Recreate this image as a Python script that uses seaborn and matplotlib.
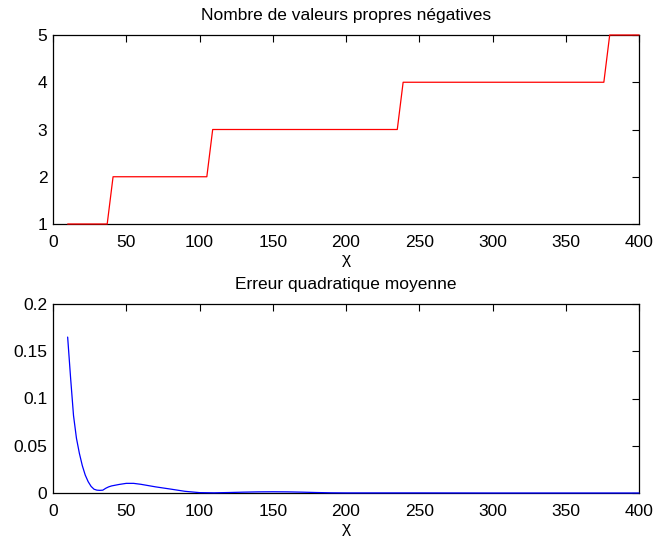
import matplotlib
matplotlib.use("Agg")
import matplotlib.pyplot as plt
import seaborn as sns
import pandas as pd

# Top: number of negative eigenvalues (step)
chi_top = [10, 37, 41, 105, 109, 235, 239, 376, 380, 400]
n_neg = [1, 1, 2, 2, 3, 3, 4, 4, 5, 5]

# Bottom: mean squared error
chi_err = [10, 12, 14, 16, 18, 20, 22, 24, 26, 28, 30, 32, 34, 36, 38, 40, 45, 50,
           55, 60, 70, 80, 90, 100, 110, 120, 130, 140, 150, 160, 170, 180, 190,
           200, 250, 300, 350, 400]
mse = [0.165, 0.122, 0.082, 0.058, 0.042, 0.029, 0.019, 0.012, 0.007, 0.004,
       0.003, 0.0028, 0.003, 0.005, 0.0065, 0.0075, 0.009, 0.0102, 0.0102, 0.0092,
       0.0065, 0.0042, 0.0018, 0.0004, 0.0002, 0.0005, 0.0009, 0.0012, 0.0013,
       0.0012, 0.0009, 0.0005, 0.0002, 0.0001, 0.0001, 0.0, 0.0, 0.0]

sns.set_style("white")
plt.rcParams['font.family'] = ['Liberation Sans', 'DejaVu Sans']
plt.rcParams['font.size'] = 12.5
plt.rcParams['text.color'] = 'black'
plt.rcParams['axes.labelcolor'] = 'black'

fig = plt.figure(figsize=(6.56, 5.43), dpi=100)
ax1 = fig.add_axes([53/656, 1-224/543, 586/656, 189/543])
ax2 = fig.add_axes([53/656, 1-493/543, 586/656, 189/543])

df1 = pd.DataFrame({"chi": chi_top, "n": n_neg})
df2 = pd.DataFrame({"chi": chi_err, "mse": mse})
sns.lineplot(data=df1, x="chi", y="n", ax=ax1, color="red", linewidth=0.9,
             sort=False, clip_on=False, zorder=5)
sns.lineplot(data=df2, x="chi", y="mse", ax=ax2, color="blue", linewidth=0.9,
             sort=False, clip_on=False, zorder=5)

ax1.set_xlim(0, 400)
ax1.set_ylim(1, 5)
ax1.set_yticks([1, 2, 3, 4, 5])
ax2.set_xlim(0, 400)
ax2.set_ylim(0, 0.2)
ax2.set_yticks([0, 0.05, 0.1, 0.15, 0.2])
ax2.set_yticklabels(["0", "0.05", "0.1", "0.15", "0.2"])

for ax, title in [(ax1, "Nombre de valeurs propres négatives"),
                  (ax2, "Erreur quadratique moyenne")]:
    ax.set_xticks(range(0, 401, 50))
    ax.tick_params(direction="in", length=5, width=0.8, top=True, right=True,
                   labelsize=12.5, colors="black")
    ax.tick_params(axis="x", pad=8)
    ax.tick_params(axis="y", pad=4)
    for s in ax.spines.values():
        s.set_visible(True)
        s.set_color("black")
        s.set_linewidth(0.9)
    ax.set_title(title, fontsize=12.5, pad=11, color="black")
    ax.set_xlabel("χ", fontsize=12.5, labelpad=1)
    ax.set_ylabel("")

fig.savefig("out.png", dpi=100)
